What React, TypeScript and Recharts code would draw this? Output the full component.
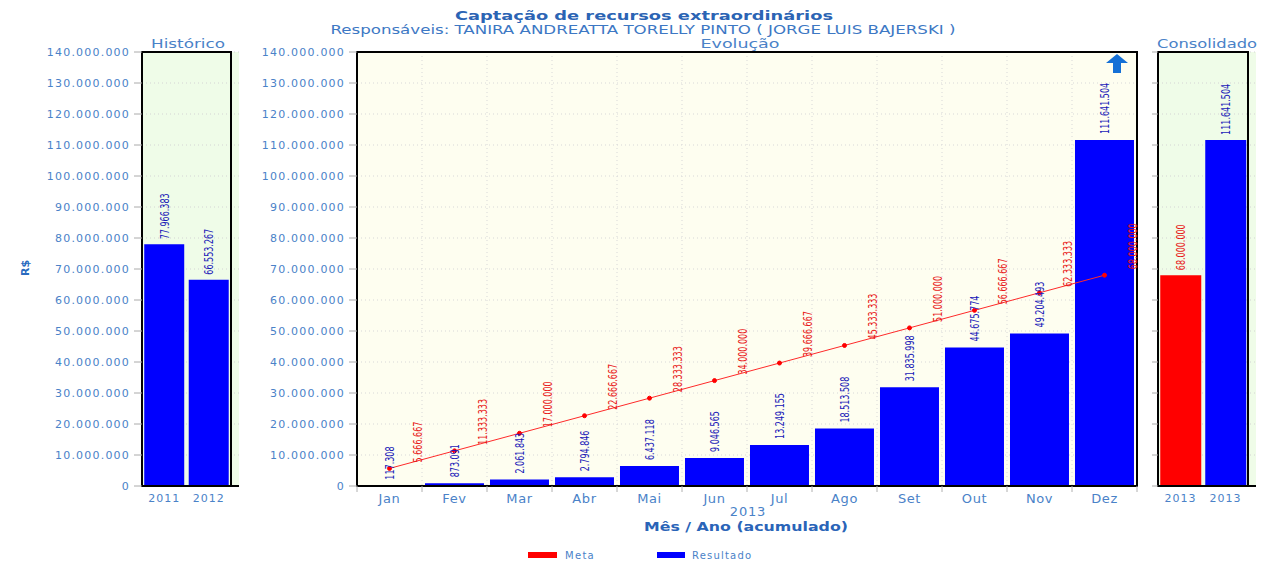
import React from 'react';
import {
  BarChart,
  ComposedChart,
  Bar,
  Line,
  XAxis,
  YAxis,
  CartesianGrid,
  LabelList,
  ReferenceArea,
  Cell,
} from 'recharts';

// ---------- data ----------
const months = ['Jan', 'Fev', 'Mar', 'Abr', 'Mai', 'Jun', 'Jul', 'Ago', 'Set', 'Out', 'Nov', 'Dez'];
const resultado = [117308, 873091, 2061843, 2794846, 6437118, 9046565, 13249155, 18513508, 31835998, 44675774, 49204493, 111641504];
const meta = [5666667, 11333333, 17000000, 22666667, 28333333, 34000000, 39666667, 45333333, 51000000, 56666667, 62333333, 68000000];

const histYears = ['2011', '2012'];
const histValues = [77966383, 66553267];

const consLabels = ['2013', '2013'];
const consValues = [68000000, 111641504];
const consSeries = ['Meta', 'Resultado'];

const yTicks = [0, 10000000, 20000000, 30000000, 40000000, 50000000, 60000000, 70000000, 80000000, 90000000, 100000000, 110000000, 120000000, 130000000, 140000000];
const yMax = 140000000;

// ---------- styles ----------
const BLUE = '#0000ff';
const RED = '#ff0000';
const TXT = '#4a82c8';
const TITLE = '#2b64b4';
const SIDE_BG = '#effce8';
const MAIN_BG = '#fefef0';
const LABEL_FONT = "'DejaVu Sans Condensed','Liberation Sans Narrow',sans-serif";
const AXIS_FONT = "'DejaVu Sans',Verdana,sans-serif";
const DIGIT_W = 5.1; // rendered width of a digit in the value labels

const mainData = months.map((m, i) => ({ month: m, resultado: resultado[i], meta: meta[i] }));
const histData = histYears.map((y, i) => ({ year: y, value: histValues[i] }));
const consData = consLabels.map((y, i) => ({ year: y, value: consValues[i], series: consSeries[i] }));

const fmt = (n: number) => Math.round(n).toString().replace(/\B(?=(\d{3})+(?!\d))/g, '.');

const yTickStyle = { fill: TXT, fontSize: 11, fontFamily: AXIS_FONT, letterSpacing: 1.2 };
const xTickStyle = { fill: TXT, fontSize: 11, fontFamily: AXIS_FONT, letterSpacing: 1 };

const makeVLabel = (color: string, dx: number, gap: number, center: boolean) => (p: any) => {
  const vb = p.viewBox || {};
  const x = p.x ?? vb.x;
  const y = p.y ?? vb.y;
  const w = center ? (p.width ?? vb.width ?? 0) : 0;
  if (x == null || y == null) return null;
  const cx = x + w / 2 + dx;
  const cy = y - gap;
  const s = fmt(Number(p.value));
  const digits = s.replace(/\./g, '').length;
  const dots = s.length - digits;
  const len = digits * DIGIT_W + dots * DIGIT_W * 0.5;
  return (
    <text
      x={cx}
      y={cy}
      transform={`rotate(-90 ${cx} ${cy})`}
      textAnchor="start"
      dominantBaseline="central"
      fill={color}
      fontSize={12.5}
      fontFamily={LABEL_FONT}
      textLength={len}
      lengthAdjust="spacingAndGlyphs"
    >
      {s}
    </text>
  );
};

const MonthTick = (p: any) => {
  const { x, y, payload, index } = p;
  const off = payload && payload.offset ? payload.offset : 0;
  return (
    <g>
      <line x1={x - off} x2={x - off} y1={y - 8} y2={y - 2} stroke="#b0b0b0" />
      {index === months.length - 1 && <line x1={x + off} x2={x + off} y1={y - 8} y2={y - 2} stroke="#b0b0b0" />}
      <text x={x} y={y} dy="0.68em" textAnchor="middle" fill={TXT} fontSize={13} fontFamily={AXIS_FONT} letterSpacing={0.6}>
        {payload.value}
      </text>
    </g>
  );
};

const EmptyTick = () => <g />;

// vertical grid lines on the category boundaries, derived from the plot offset
const verticalGen = (props: any) => {
  const offset = props && props.offset;
  if (offset && typeof offset.left === 'number' && typeof offset.width === 'number') {
    return months.map((_, i) => offset.left + (i * offset.width) / months.length).concat([offset.left + offset.width]);
  }
  return [];
};

const frameProps = { y1: 0, y2: yMax, fill: 'none', fillOpacity: 0, stroke: '#000', strokeWidth: 2, ifOverflow: 'visible' as const };

export default function App() {
  return (
    <div style={{ position: 'absolute', left: 0, top: 0, width: 1262, height: 563, background: '#fff', overflow: 'hidden' }}>
      {/* Histórico */}
      <div style={{ position: 'absolute', left: 0, top: 0 }}>
        <BarChart width={250} height={563} data={histData} margin={{ top: 52, right: 11, bottom: 0, left: 0 }} barCategoryGap="5%">
          <CartesianGrid fill={SIDE_BG} stroke="#d4d4d4" strokeDasharray="1 3" vertical={false} />
          <XAxis dataKey="year" height={77} tickLine={false} axisLine={{ stroke: '#000', strokeWidth: 2 }} tick={xTickStyle} padding={{ left: 0, right: 8 }} interval={0} />
          <YAxis width={142} domain={[0, yMax]} ticks={yTicks} tickFormatter={fmt} tickSize={8} tickMargin={4} axisLine={{ stroke: '#000', strokeWidth: 2 }} tickLine={{ stroke: '#aaa' }} tick={yTickStyle} />
          <Bar dataKey="value" fill={BLUE} isAnimationActive={false}>
            <LabelList dataKey="value" content={makeVLabel('#1a1ab8', 0, 5, true)} />
          </Bar>
          <ReferenceArea {...frameProps} />
        </BarChart>
      </div>

      {/* Evolução */}
      <div style={{ position: 'absolute', left: 250, top: 0 }}>
        <ComposedChart width={900} height={563} data={mainData} margin={{ top: 52, right: 13, bottom: 0, left: 0 }} barCategoryGap="4.6%">
          <CartesianGrid fill={MAIN_BG} stroke="#d8d8d8" strokeDasharray="1 3" verticalCoordinatesGenerator={verticalGen} />
          <XAxis dataKey="month" height={77} tickLine={false} axisLine={{ stroke: '#000', strokeWidth: 2 }} tick={<MonthTick />} interval={0} />
          <YAxis width={107} domain={[0, yMax]} ticks={yTicks} tickFormatter={fmt} tickSize={8} tickMargin={4} axisLine={{ stroke: '#000', strokeWidth: 2 }} tickLine={{ stroke: '#aaa' }} tick={yTickStyle} />
          <Bar dataKey="resultado" name="Resultado" fill={BLUE} isAnimationActive={false}>
            <LabelList dataKey="resultado" content={makeVLabel('#1a1ab8', 0, 6, true)} />
          </Bar>
          <Line
            dataKey="meta"
            name="Meta"
            stroke="#ff2a2a"
            strokeWidth={1}
            dot={{ r: 2, fill: RED, stroke: RED, strokeWidth: 1 }}
            isAnimationActive={false}
          >
            <LabelList dataKey="meta" content={makeVLabel('#e81818', 28, 6, false)} />
          </Line>
          <ReferenceArea {...frameProps} />
        </ComposedChart>
      </div>

      {/* Consolidado */}
      <div style={{ position: 'absolute', left: 1150, top: 0 }}>
        <BarChart width={112} height={563} data={consData} margin={{ top: 52, right: 6, bottom: 0, left: 0 }} barCategoryGap="5%">
          <CartesianGrid fill={SIDE_BG} stroke="#d4d4d4" strokeDasharray="1 3" vertical={false} />
          <XAxis dataKey="year" height={77} tickLine={false} axisLine={{ stroke: '#000', strokeWidth: 2 }} tick={xTickStyle} padding={{ left: 0, right: 8 }} interval={0} />
          <YAxis width={8} domain={[0, yMax]} ticks={yTicks} tickSize={6} axisLine={{ stroke: '#000', strokeWidth: 2 }} tickLine={{ stroke: '#aaa' }} tick={<EmptyTick />} />
          <Bar dataKey="value" isAnimationActive={false}>
            {consData.map((d, i) => (
              <Cell key={i} fill={d.series === 'Meta' ? RED : BLUE} />
            ))}
            <LabelList
              dataKey="value"
              content={(p: any) => {
                const d = consData[p.index];
                const color = d && d.series === 'Meta' ? '#e81818' : '#1a1ab8';
                return makeVLabel(color, 0, 5, true)(p);
              }}
            />
          </Bar>
          <ReferenceArea {...frameProps} />
        </BarChart>
      </div>

      {/* titles, axis names, legend */}
      <svg width={1262} height={563} style={{ position: 'absolute', left: 0, top: 0, pointerEvents: 'none' }}>
        <text x={644} y={20} textAnchor="middle" fill={TITLE} fontSize={13} fontWeight="bold" fontFamily={AXIS_FONT} textLength={378} lengthAdjust="spacingAndGlyphs">
          Captação de recursos extraordinários
        </text>
        <text x={643} y={34} textAnchor="middle" fill="#3d78c4" fontSize={11.5} fontFamily="'DejaVu Sans Condensed','DejaVu Sans',sans-serif" textLength={625} lengthAdjust="spacingAndGlyphs">
          Responsáveis: TANIRA ANDREATTA TORELLY PINTO ( JORGE LUIS BAJERSKI )
        </text>
        <text x={188} y={48} textAnchor="middle" fill={TXT} fontSize={12} fontFamily={AXIS_FONT} textLength={74} lengthAdjust="spacingAndGlyphs">
          Histórico
        </text>
        <text x={740} y={48} textAnchor="middle" fill={TXT} fontSize={12} fontFamily={AXIS_FONT} textLength={79} lengthAdjust="spacingAndGlyphs">
          Evolução
        </text>
        <text x={1207} y={48} textAnchor="middle" fill={TXT} fontSize={12} fontFamily={AXIS_FONT} textLength={100} lengthAdjust="spacingAndGlyphs">
          Consolidado
        </text>
        <text x={25} y={268} transform="rotate(-90 25 268)" textAnchor="middle" dominantBaseline="central" fill="#2a6bbf" fontSize={11} fontWeight="bold" fontFamily={AXIS_FONT}>
          R$
        </text>
        <text x={748} y={516} textAnchor="middle" fill={TXT} fontSize={13} fontFamily={AXIS_FONT} letterSpacing={0.8}>
          2013
        </text>
        <text x={746} y={531} textAnchor="middle" fill="#2a64b8" fontSize={13} fontWeight="bold" fontFamily={AXIS_FONT} textLength={204} lengthAdjust="spacingAndGlyphs">
          Mês / Ano (acumulado)
        </text>
        {/* arrow icon */}
        <path d="M1117,54 L1128,63 L1121,63 L1121,73 L1113,73 L1113,63 L1106,63 Z" fill="#1570d6" />
        {/* legend */}
        <rect x={528} y={552} width={29} height={6} fill={RED} />
        <text x={565} y={559} fill={TXT} fontSize={10} fontFamily={AXIS_FONT} letterSpacing={1.3}>
          Meta
        </text>
        <rect x={657} y={552} width={28} height={6} fill={BLUE} />
        <text x={692} y={559} fill={TXT} fontSize={10} fontFamily={AXIS_FONT} letterSpacing={1.2}>
          Resultado
        </text>
      </svg>
    </div>
  );
}
